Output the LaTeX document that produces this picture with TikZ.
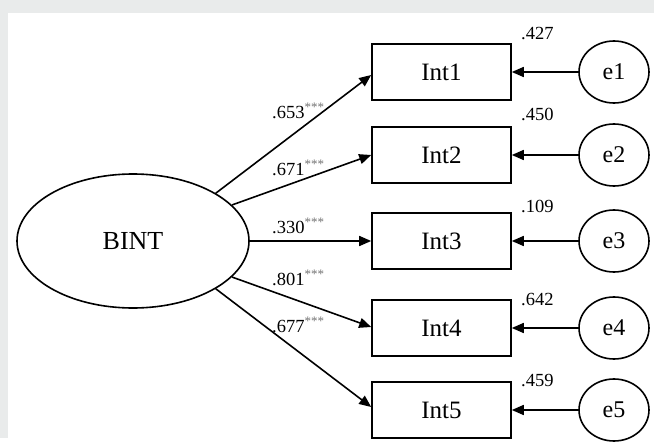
\documentclass[tikz,border=0pt]{standalone}
\usepackage{fontspec}
\setmainfont{Liberation Serif}
\usepackage{tikz}
\usetikzlibrary{arrows.meta}
\usetikzlibrary{shapes.geometric}
\definecolor{panelgray}{HTML}{E9EBEB}
\tikzset{basic shape/.style={draw,line width=1.6pt,inner sep=0pt}}
\tikzset{indicator/.style={basic shape,rectangle,
                           minimum width=139pt,
                           minimum height=56pt,
                           font=\fontsize{25}{27}\selectfont}}
\tikzset{latent/.style={basic shape,ellipse}}
\tikzset{loading/.style={draw,
                         line width=1.6pt,
                         -{Triangle[length=12pt,width=10pt]}}}
\newcommand{\SIG}{\textsuperscript{\color{black!55}***}}

\begin{document}
\begin{tikzpicture}
      [
      x=1pt,y=-1pt,
      error/.style={latent,
      minimum width=70pt,
      minimum height=62pt,
      font=\fontsize{24}{26}\selectfont},
      coef/.style={inner sep=0pt,anchor=base west,
      font=\fontsize{18.5}{20}\selectfont},
      ]

      % background
      \fill [panelgray] (0,0) rectangle (654,438);
      \fill [white] (8,13) rectangle (654,438);

      % latent variable
      \node [latent,minimum width=232pt,minimum height=134pt,
      font=\fontsize{26}{28}\selectfont] (BINT) at (133,241) {BINT};

      % indicators and errors
      \foreach \i/\y/\v/\vy in
      {
      1/72/.427/39,
      2/155/.450/120,
      3/241/.109/212,
      4/328/.642/305,
      5/410/.459/386
      }
      {
      \node [indicator] (Int\i) at (441.5,\y) {Int\i};
      \node [error] (E\i) at (614,\y) {e\i};
      \node [coef] (V\i) at (521,\vy) {\v};
      \draw [loading] (E\i) -- (Int\i);
      }

      % loadings
      \foreach \i/\a/\d/\l/\ly in
      {
      1/30/-3/.653/118,
      2/20/0/.671/175,
      3/0/0/.330/233,
      4/-20/1/.801/285,
      5/-30/3/.677/332
      }
      {
      \draw [loading] (BINT.\a) -- ([yshift=\d pt]Int\i.west);
      \node [coef] (L\i) at (272,\ly) {\l\SIG};
      }

    \end{tikzpicture}
\end{document}
